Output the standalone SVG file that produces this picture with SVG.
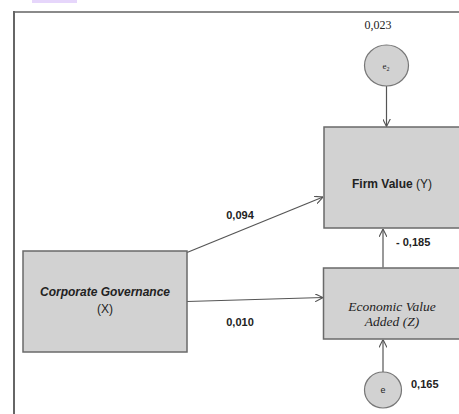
<svg xmlns="http://www.w3.org/2000/svg" width="459" height="414" viewBox="0 0 459 414">
  <defs>
    <style>
      .box { fill: #d2d2d2; stroke: #6a6a6a; stroke-width: 1.5; }
      .circ { fill: #d2d2d2; stroke: #777; stroke-width: 1.2; }
      .edge { stroke: #555; stroke-width: 1.2; fill: none; marker-end: url(#arr); }
      .sans { font-family: "Liberation Sans", Arial, sans-serif; fill: #222; }
      .serif { font-family: "Liberation Serif", "Times New Roman", serif; fill: #222; }
      .lbl { font-family: "Liberation Sans", Arial, sans-serif; font-weight: bold; font-size: 11px; fill: #222; }
    </style>
    <marker id="arr" viewBox="0 0 10 10" refX="10" refY="5" markerWidth="8" markerHeight="8" markerUnits="userSpaceOnUse" orient="auto">
      <path d="M0,0 L10,5 L0,10" fill="none" stroke="#555" stroke-width="1.4"/>
    </marker>
  </defs>
  <rect x="32" y="0" width="45" height="3" fill="#e6d6fb"/>
  <g id="frame">
    <line x1="13" y1="12" x2="459" y2="12" stroke="#8a8a8a" stroke-width="2"/>
    <line x1="14" y1="11" x2="14" y2="414" stroke="#666" stroke-width="2"/>
  </g>
  <g id="connectors">
    <line class="edge" x1="187" y1="252.5" x2="323" y2="197"/>
    <line class="edge" x1="187" y1="301.5" x2="323" y2="297.5"/>
    <line class="edge" x1="386.5" y1="86" x2="386.5" y2="126.5"/>
    <line class="edge" x1="383" y1="267.5" x2="383" y2="229"/>
    <line class="edge" x1="383" y1="372" x2="383" y2="339.5"/>
  </g>
  <g id="labels">
    <text class="serif" x="378" y="29" font-size="12" text-anchor="middle">0,023</text>
    <text class="lbl" x="240" y="219" text-anchor="middle">0,094</text>
    <text class="lbl" x="240" y="326" text-anchor="middle">0,010</text>
    <text class="lbl" x="396" y="246">- 0,185</text>
    <text class="lbl" x="411" y="388" font-size="12">0,165</text>
  </g>
  <g id="node-e2">
    <ellipse class="circ" cx="386.5" cy="65.5" rx="22" ry="20.5"/>
    <text class="serif" x="386" y="68.5" font-size="9" text-anchor="middle">e<tspan font-size="6" dy="2">2</tspan></text>
  </g>
  <g id="node-firm-value">
    <rect class="box" x="324" y="127" width="140" height="101"/>
    <text class="sans" x="392" y="188" font-size="12" text-anchor="middle"><tspan font-weight="bold">Firm Value</tspan> (Y)</text>
  </g>
  <g id="node-eva">
    <rect class="box" x="323.5" y="268" width="140" height="71"/>
    <text class="serif" x="392" y="311" font-size="13.5" font-style="italic" text-anchor="middle">Economic Value</text>
    <text class="serif" x="392" y="326" font-size="13.5" font-style="italic" text-anchor="middle">Added (Z)</text>
  </g>
  <g id="node-corporate-governance">
    <rect class="box" x="23" y="251" width="164" height="101"/>
    <text class="sans" x="105" y="296" font-size="12" font-weight="bold" font-style="italic" text-anchor="middle">Corporate Governance</text>
    <text class="sans" x="105" y="313" font-size="12" text-anchor="middle">(X)</text>
  </g>
  <g id="node-e">
    <ellipse class="circ" cx="383" cy="390" rx="18.5" ry="18"/>
    <text class="sans" x="383" y="393" font-size="9" text-anchor="middle">e</text>
  </g>
</svg>
